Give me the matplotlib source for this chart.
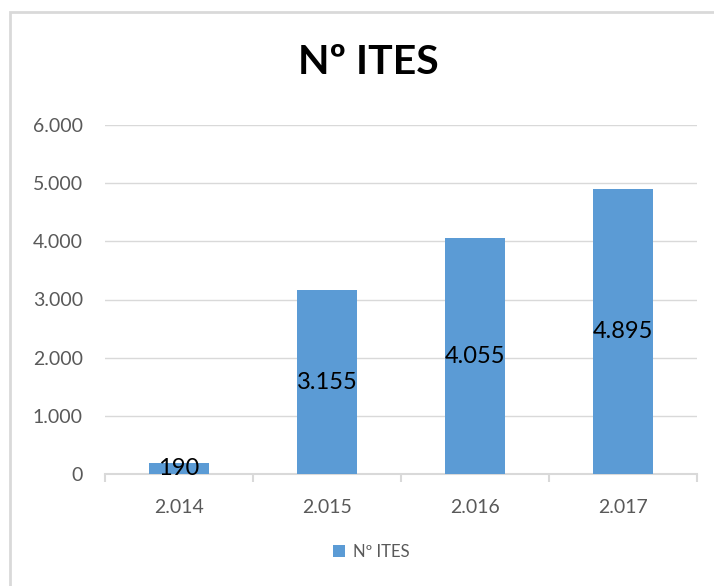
import matplotlib.pyplot as plt
from matplotlib.patches import Rectangle

plt.rcParams['font.family'] = ['Lato', 'DejaVu Sans']

# datos
anios = ['2.014', '2.015', '2.016', '2.017']
num_ites = [190, 3155, 4055, 4895]
etiquetas = ['190', '3.155', '4.055', '4.895']
ticks_y = [0, 1000, 2000, 3000, 4000, 5000, 6000]
ticks_y_txt = ['0', '1.000', '2.000', '3.000', '4.000', '5.000', '6.000']

azul = '#5B9BD5'
gris = '#595959'

fig = plt.figure(figsize=(7.14, 5.86), dpi=100)
ax = fig.add_axes([105/714, 1-474/586, 592/714, 349/586])

x = range(len(anios))
bars = ax.bar(x, num_ites, width=0.41, color=azul, label='Nº ITES', zorder=3)

for b, t in zip(bars, etiquetas):
    ax.text(b.get_x() + b.get_width()/2, b.get_height()/2, t,
            ha='center', va='center', fontsize=17, color='black', zorder=4)

ax.set_xlim(-0.5, len(anios) - 0.5)
ax.set_ylim(0, 6000)
ax.set_yticks(ticks_y)
ax.set_yticklabels(ticks_y_txt, fontsize=14, color=gris)
ax.set_xticks(list(x))
ax.set_xticklabels(anios, fontsize=14, color=gris)
ax.tick_params(axis='y', length=0, pad=16)
ax.tick_params(axis='x', length=0, pad=18)

# marcas entre categorias
ax.set_xticks([i - 0.5 for i in range(len(anios) + 1)], minor=True)
ax.tick_params(axis='x', which='minor', length=6, color='#D9D9D9', width=1.5)

ax.grid(axis='y', color='#D9D9D9', linewidth=1, zorder=0)
for s in ['top', 'right', 'left']:
    ax.spines[s].set_visible(False)
ax.spines['bottom'].set_color('#D9D9D9')
ax.spines['bottom'].set_linewidth(1.5)

fig.text(0.516, 1-63/586, 'Nº ITES', ha='center', va='center',
         fontsize=29.5, fontweight='bold', color='black')

fig.legend(loc='center', bbox_to_anchor=(0.52, 1-552/586), frameon=False,
           fontsize=12, handlelength=0.7, handleheight=0.7, handletextpad=0.5,
           labelcolor=gris)

# borde del grafico
fig.patches.append(Rectangle((10/714, -0.05), 1.1, 1-12/586+0.05,
                             transform=fig.transFigure, fill=False,
                             edgecolor='#D9D9D9', linewidth=2))

plt.savefig('out.png', dpi=100)
